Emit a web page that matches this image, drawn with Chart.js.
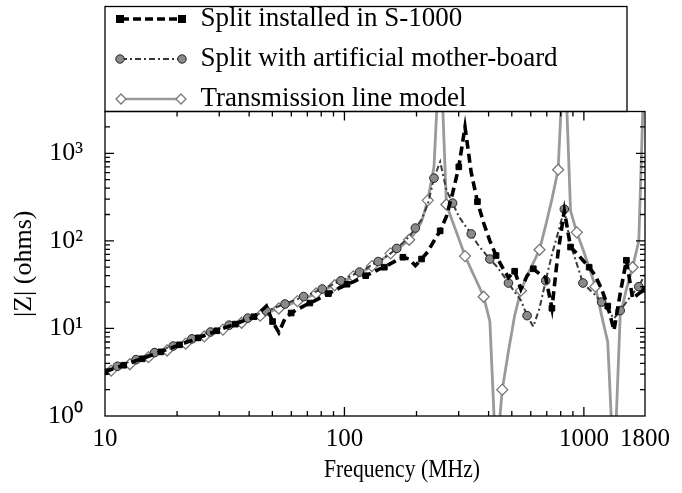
<!DOCTYPE html>
<html>
<head>
<meta charset="utf-8">
<script src="https://cdn.jsdelivr.net/npm/chart.js@4.4.0/dist/chart.umd.min.js"></script>
<style>
html,body{margin:0;padding:0;background:#fff;}
#wrap{width:682px;height:493px;}
</style>
</head>
<body>
<div id="wrap"><canvas id="c" width="682" height="493"></canvas></div>
<script>
// ---------------- data ----------------
const freqMHz = [
  10, 10.61, 11.27, 11.96, 12.70, 13.48, 14.30, 15.19, 16.12, 17.11,
  18.17, 19.28, 20.47, 21.73, 23.07, 24.48, 25.99, 27.59, 29.29, 31.09,
  33.00, 35.03, 37.19, 39.48, 41.90, 44.48, 47.21, 50.11, 53.20, 56.47,
  59.94, 63.63, 67.54, 71.70, 76.11, 80.79, 85.76, 91.03, 96.63, 102.6,
  108.9, 115.6, 122.7, 130.2, 138.3, 146.8, 155.8, 165.4, 175.5, 186.3,
  197.8, 209.9, 222.8, 236.6, 251.1, 266.6, 283.0, 300.4, 318.8, 338.5,
  359.3, 381.4, 404.9, 429.8, 456.2, 484.2, 514.0, 545.7, 579.2, 614.9,
  652.7, 692.8, 735.5, 780.7, 828.7, 879.7, 933.8, 991.0, 1052, 1117,
  1186, 1258, 1336, 1418, 1505, 1598, 1696, 1800
];
const splitS1000 = [
  3.2, 3.4, 3.6, 3.8, 4.0, 4.3, 4.5, 4.8, 5.1, 5.4,
  5.8, 6.1, 6.5, 6.9, 7.3, 7.8, 8.3, 8.8, 9.4, 10.0,
  10.6, 11.2, 12.0, 12.7, 13.6, 15.5, 18, 12, 9.0, 13,
  15, 16.5, 18, 19.5, 21, 23, 25, 27, 29.5, 32,
  34, 37, 40, 43, 47, 50, 55, 60, 65, 62,
  52, 62, 75, 100, 130, 190, 350, 700, 2000, 600,
  280, 160, 100, 68, 50, 38, 45, 28, 40, 48,
  42, 38, 17, 75, 220, 85, 72, 60, 50, 40,
  28, 18, 9.5, 25, 60, 22, 25, 28
];
const splitMotherboard = [
  3.3, 3.5, 3.7, 3.9, 4.2, 4.4, 4.7, 5.0, 5.3, 5.6,
  6.0, 6.3, 6.7, 7.1, 7.6, 8.0, 8.6, 9.1, 9.7, 10.3,
  10.9, 11.6, 12.3, 13.1, 14.0, 14.9, 15.8, 16.8, 17.9, 19.0,
  20.3, 21.6, 23.1, 24.6, 26.4, 28.2, 30.2, 32.5, 35.0, 37.8,
  41, 44, 48, 53, 58, 64, 72, 82, 95, 112,
  140, 175, 260, 520, 800, 380, 270, 190, 150, 120,
  92, 75, 62, 52, 42, 33, 26, 21, 14, 10.5,
  17, 35, 70, 125, 230, 90, 55, 33, 28, 24,
  20, 16, 13, 16, 20, 25, 30, 42
];
const tlModel = [
  3.1, 3.3, 3.5, 3.7, 3.9, 4.2, 4.4, 4.7, 5.0, 5.3,
  5.6, 6.0, 6.3, 6.7, 7.1, 7.6, 8.1, 8.6, 9.1, 9.7,
  10.3, 10.9, 11.6, 12.4, 13.2, 14.0, 14.9, 15.9, 16.9, 18.0,
  19.2, 20.5, 21.9, 23.4, 25.1, 26.9, 28.9, 31.1, 33.5, 36.2,
  39.3, 42.8, 46.8, 51.5, 57, 64, 72, 80, 90, 103,
  125, 165, 290, 700, 20000, 260, 165, 106, 67, 47,
  33, 23, 12, 0.3, 2.0, 5.5, 14, 27, 40, 56,
  79, 150, 300, 650, 20000, 220, 125, 80, 50, 30,
  14, 7, 0.2, 14, 28, 50, 100, 20000
];
const seriesNames = ['Split installed in S-1000', 'Split with artificial mother-board', 'Transmission line model'];
const xTickValues = [10, 100, 1000, 1800];
const yTickValues = [1, 10, 100, 1000];
const yTickLabels = ['10\u2070', '10\u00B9', '10\u00B2', '10\u00B3'];
const xTitle = 'Frequency (MHz)';
const yTitle = '|Z| (ohms)';

// ---------------- styling ----------------
const FONT = "'Liberation Serif', 'Times New Roman', serif";
const toXY = (ys) => ys.map((v, i) => ({x: freqMHz[i], y: v}));
const every3 = (k, r) => (ctx) => (ctx.dataIndex % 3 === k ? r : 0);

function makeIcon(draw) {
  const c = document.createElement('canvas');
  c.width = 72; c.height = 16;
  const g = c.getContext('2d');
  draw(g);
  return c;
}
const icons = [
  makeIcon(g => {
    g.strokeStyle = '#000'; g.lineWidth = 3.6; g.setLineDash([8, 4]);
    g.beginPath(); g.moveTo(6, 8); g.lineTo(66, 8); g.stroke();
    g.setLineDash([]); g.fillStyle = '#000';
    g.fillRect(1, 4, 8, 8); g.fillRect(63, 4, 8, 8);
  }),
  makeIcon(g => {
    g.strokeStyle = '#333'; g.lineWidth = 2; g.setLineDash([6, 3, 2, 3]);
    g.beginPath(); g.moveTo(6, 8); g.lineTo(66, 8); g.stroke();
    g.setLineDash([]); g.fillStyle = '#8a8a8a'; g.strokeStyle = '#222'; g.lineWidth = 1;
    [5, 67].forEach(cx => { g.beginPath(); g.arc(cx, 8, 4.2, 0, Math.PI * 2); g.fill(); g.stroke(); });
  }),
  makeIcon(g => {
    g.strokeStyle = '#9a9a9a'; g.lineWidth = 2.6;
    g.beginPath(); g.moveTo(6, 8); g.lineTo(66, 8); g.stroke();
    g.fillStyle = '#fff'; g.strokeStyle = '#777'; g.lineWidth = 1.3;
    [6, 66].forEach(cx => { g.beginPath(); g.moveTo(cx - 5, 8); g.lineTo(cx, 3); g.lineTo(cx + 5, 8); g.lineTo(cx, 13); g.closePath(); g.fill(); g.stroke(); });
  })
];

const frame = {
  id: 'frame',
  afterLayout(chart) {
    const lg = chart.legend;
    lg.top += 11; lg.bottom += 11; lg.left -= 3;
  },
  afterDatasetsDraw(chart) {
    const {ctx, chartArea: a, scales: {x, y}} = chart;
    ctx.save();
    ctx.strokeStyle = '#000';
    ctx.lineWidth = 1.3;
    ctx.strokeRect(a.left, a.top, a.right - a.left, a.bottom - a.top);
    ctx.beginPath();
    for (let d = 10; d <= 1000; d *= 10) {
      for (let m = 1; m <= 9; m++) {
        const v = m * d;
        if (v <= 10 || v > 1000) continue;
        const len = m === 1 ? 9 : 5;
        const px = x.getPixelForValue(v);
        ctx.moveTo(px, a.bottom); ctx.lineTo(px, a.bottom - len);
        ctx.moveTo(px, a.top); ctx.lineTo(px, a.top + len);
      }
    }
    for (let d = 1; d <= 1000; d *= 10) {
      for (let m = 1; m <= 9; m++) {
        const v = m * d;
        if (v <= 1 || v >= 3000) continue;
        const len = m === 1 ? 9 : 5;
        const py = y.getPixelForValue(v);
        ctx.moveTo(a.left, py); ctx.lineTo(a.left + len, py);
        ctx.moveTo(a.right, py); ctx.lineTo(a.right - len, py);
      }
    }
    ctx.stroke();
    ctx.restore();
  },
  afterDraw(chart) {
    const {ctx, chartArea: a} = chart;
    ctx.save();
    ctx.strokeStyle = '#000';
    ctx.lineWidth = 1.3;
    ctx.strokeRect(a.left, 6.5, 522, a.top - 6.5);
    // x-axis title (sits right of the plot centre in the reference, slightly condensed)
    ctx.fillStyle = '#000';
    ctx.font = "25px " + FONT;
    ctx.textAlign = 'center';
    ctx.textBaseline = 'middle';
    ctx.fillText(xTitle, a.left + (a.right - a.left) * 0.55, 470, 156);
    ctx.restore();
  }
};

new Chart(document.getElementById('c'), {
  type: 'line',
  data: {
    datasets: [
      {
        label: seriesNames[0], data: toXY(splitS1000),
        borderColor: '#000', borderWidth: 3.6, borderDash: [9, 5],
        pointStyle: 'rect', pointRadius: every3(0, 4), pointBackgroundColor: '#000', pointBorderColor: '#000', pointBorderWidth: 1
      },
      {
        label: seriesNames[1], data: toXY(splitMotherboard),
        borderColor: '#3a3a3a', borderWidth: 2, borderDash: [6, 3, 2, 3],
        pointStyle: 'circle', pointRadius: every3(2, 4.3), pointBackgroundColor: '#8a8a8a', pointBorderColor: '#222', pointBorderWidth: 1
      },
      {
        label: seriesNames[2], data: toXY(tlModel),
        borderColor: '#9a9a9a', borderWidth: 2.8,
        pointStyle: 'rectRot', pointRadius: every3(1, 5.5), pointBackgroundColor: '#fff', pointBorderColor: '#777', pointBorderWidth: 1.3
      }
    ]
  },
  options: {
    responsive: false,
    animation: false,
    events: [],
    layout: {padding: {left: 0, right: 37, top: -18.5, bottom: 0}},
    elements: {line: {tension: 0}},
    plugins: {
      tooltip: {enabled: false},
      legend: {
        position: 'top', align: 'start', fullSize: false,
        labels: {
          usePointStyle: true, pointStyleWidth: 72, padding: 13, color: '#000',
          font: {family: FONT, size: 27},
          generateLabels(chart) {
            const items = Chart.defaults.plugins.legend.labels.generateLabels(chart);
            items.forEach((it, i) => { it.pointStyle = icons[i]; });
            return items;
          }
        }
      }
    },
    scales: {
      x: {
        type: 'logarithmic', min: 10, max: 1800,
        afterBuildTicks(s) { s.ticks = xTickValues.map(v => ({value: v})); },
        afterFit(s) { s.height = 77; },
        grid: {display: false, drawTicks: false},
        border: {display: false},
        ticks: {color: '#000', font: {family: FONT, size: 25}, padding: 8, maxRotation: 0, autoSkip: false,
                callback: (v) => String(v)},
        title: {display: false, text: xTitle}
      },
      y: {
        type: 'logarithmic', min: 1, max: 3000,
        afterBuildTicks(s) { s.ticks = yTickValues.map(v => ({value: v})); },
        afterFit(s) { s.width = 105; },
        grid: {display: false, drawTicks: false},
        border: {display: false},
        ticks: {color: '#000', font: {family: FONT, size: 26}, padding: 22, autoSkip: false,
                callback: (v) => yTickLabels[yTickValues.indexOf(v)] ?? ''},
        title: {display: true, text: yTitle, color: '#000', font: {family: FONT, size: 26}, padding: {top: 9, bottom: 0}}
      }
    }
  },
  plugins: [frame]
});
</script>
</body>
</html>
